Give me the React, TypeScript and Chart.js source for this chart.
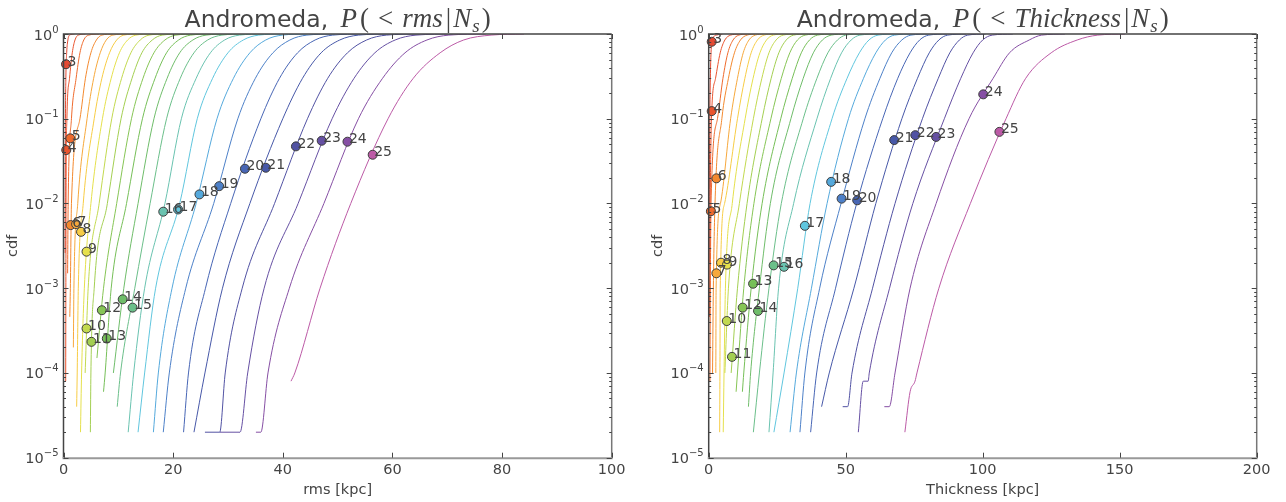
import React, { useEffect, useRef } from "react";
import { Chart, registerables } from "chart.js";

Chart.register(...registerables);

// ---------------- data ----------------
const sampleSizes = [3, 4, 5, 6, 7, 8, 9, 10, 11, 12, 13, 14, 15, 16, 17, 18, 19, 20, 21, 22, 23, 24, 25];

const curveColors = [
  "#e34a33", "#e9552f", "#ee6a2d", "#f3892f", "#f6a83c", "#f7cc45", "#e5e04c", "#c2d94f",
  "#a3cf52", "#86c555", "#76bf58", "#6fbd6a", "#6bbf8a", "#6ac3b0", "#60c6de", "#55a9dc",
  "#4d80c8", "#4866b5", "#4758a8", "#5152a3", "#6650a3", "#864fa4", "#bc5aa6",
];

// cdf levels at which the x value of every curve is read
const cdfLevels = [1e-4, 1e-3, 1e-2, 0.1, 0.3, 0.6, 0.85, 0.97, 1];

// rms [kpc] read at the cdf levels, one row per sample size
const rmsCurveX: (number | null)[][] = [
  [null, null, 0.32, 0.36, 0.43, 0.58, 0.8, 1.1, 2.0],
  [null, 0.43, 0.46, 0.62, 1.1, 1.6, 2.1, 2.7, 4.0],
  [null, null, 0.85, 1.45, 2.3, 3.0, 3.7, 4.6, 6.5],
  [null, 1.25, 1.45, 3.0, 4.0, 5.0, 6.0, 7.0, 9.0],
  [null, 1.9, 2.6, 4.3, 5.5, 6.7, 7.8, 9.0, 11.5],
  [2.5, 2.7, 3.6, 5.6, 7.0, 8.4, 9.7, 11.0, 13.5],
  [3.3, 3.8, 5.0, 7.1, 8.7, 10.2, 11.7, 13.2, 16.0],
  [3.95, 4.5, 6.5, 8.8, 10.6, 12.3, 14.0, 15.6, 18.5],
  [5.0, 5.6, 8.0, 10.5, 12.5, 14.3, 16.2, 18.0, 21.5],
  [null, 7.3, 9.7, 12.4, 14.5, 16.5, 18.5, 20.5, 24.0],
  [7.6, 8.7, 11.5, 14.4, 16.7, 18.8, 21.0, 23.2, 27.0],
  [9.1, 11.0, 13.6, 16.5, 18.9, 21.2, 23.6, 26.0, 30.0],
  [10.4, 13.0, 15.8, 18.8, 21.3, 23.8, 26.3, 28.9, 33.0],
  [12.8, 14.8, 18.5, 21.5, 24.2, 26.8, 29.4, 32.1, 36.5],
  [14.8, 16.8, 21.2, 24.4, 27.2, 30.0, 32.8, 35.6, 40.0],
  [17.3, 19.8, 24.2, 28.0, 31.0, 34.0, 36.9, 39.9, 44.5],
  [19.3, 22.3, 27.4, 31.8, 35.0, 38.2, 41.3, 44.4, 49.5],
  [22.8, 25.9, 30.5, 36.0, 39.4, 42.7, 45.9, 49.1, 54.5],
  [25.8, 29.0, 34.0, 40.0, 43.6, 47.0, 50.4, 53.8, 59.5],
  [29.5, 32.6, 38.5, 44.5, 48.2, 51.8, 55.3, 58.9, 65.0],
  [33.6, 36.6, 42.8, 49.0, 53.0, 56.8, 60.5, 64.3, 71.0],
  [37.3, 41.2, 47.5, 53.8, 58.2, 62.3, 66.3, 70.3, 77.0],
  [42.2, 46.8, 52.4, 59.2, 63.8, 68.7, 73.0, 78.0, 84.0],
];

// lowest samples of each rms curve: [rms, cdf]
const rmsTails: number[][][] = [
  [[0.3, 2.6e-3]], [[0.4, 8e-5]], [[0.75, 1.5e-3]], [[1.15, 4.6e-4]], [[1.8, 2e-4]],
  [[2.4, 4e-5]], [[3.1, 2e-5]], [], [[4.9, 2e-5]], [[6.1, 1.5e-4]], [[7.3, 6e-5]], [],
  [[9.8, 4e-5]], [[11.8, 2e-5]], [[13.6, 2e-5]], [[16.4, 2e-5]], [[18.2, 2e-5]],
  [[21.9, 2e-5]], [[23.8, 2e-5]], [[25.8, 2e-5], [28.5, 2e-5]], [[28.5, 2e-5], [32.2, 2e-5]],
  [[35.1, 2e-5], [36.0, 2e-5]], [[41.5, 8e-5]],
];

const rmsPointX = [0.46, 0.5, 1.24, 1.3, 2.3, 3.2, 4.2, 4.2, 5.1, 7.0, 7.9, 10.8, 12.6, 18.2, 20.9, 24.8, 28.4, 33.1, 36.9, 42.4, 47.1, 51.8, 56.4];
const rmsPointCdf = [0.44, 0.0427, 0.0587, 0.00556, 0.0057, 0.00463, 0.0027, 3.35e-4, 2.33e-4, 5.5e-4, 2.55e-4, 7.4e-4, 5.9e-4, 0.008, 0.0085, 0.0128, 0.016, 0.0257, 0.0264, 0.0472, 0.055, 0.0536, 0.0376];

// Thickness [kpc] read at the cdf levels
const thickCurveX: (number | null)[][] = [
  [null, null, 0.2, 0.4, 0.6, 0.85, 1.3, 2.8, 5.0],
  [null, 0.35, 0.55, 1.0, 2.5, 4.2, 5.9, 8.0, 11.0],
  [null, 0.6, 0.85, 3.2, 5.2, 7.0, 8.9, 11.0, 14.0],
  [1.4, 1.7, 2.3, 4.8, 7.2, 9.4, 11.6, 14.0, 17.0],
  [2.6, 2.7, 4.3, 8.0, 10.5, 12.6, 14.7, 17.0, 20.0],
  [4.1, 4.2, 5.8, 10.5, 13.2, 15.5, 17.8, 20.2, 23.5],
  [5.6, 6.1, 8.6, 13.3, 16.2, 18.7, 21.1, 23.6, 27.5],
  [5.9, 7.2, 11.2, 16.3, 19.4, 22.0, 24.6, 27.2, 31.5],
  [8.2, 10.5, 14.0, 19.5, 22.8, 25.6, 28.3, 31.0, 35.5],
  [10.5, 12.8, 16.5, 22.7, 26.5, 29.6, 32.4, 35.2, 40.0],
  [12.8, 15.5, 19.5, 26.3, 30.5, 33.8, 36.8, 39.7, 45.0],
  [15.3, 18.5, 22.5, 30.0, 34.5, 38.2, 41.5, 44.7, 50.0],
  [18.5, 22.0, 26.5, 34.5, 39.5, 43.5, 47.0, 50.0, 56.0],
  [23.5, 25.5, 31.0, 39.5, 44.5, 48.5, 52.0, 55.2, 62.0],
  [27.5, 32.5, 37.0, 45.0, 50.5, 55.0, 58.5, 61.8, 68.5],
  [32.0, 37.5, 43.2, 51.0, 56.5, 61.0, 64.5, 67.8, 74.5],
  [35.1, 40.5, 48.3, 57.0, 62.5, 66.8, 70.5, 73.8, 80.5],
  [39.4, 46.3, 54.0, 63.5, 69.0, 73.5, 77.0, 80.3, 87.0],
  [44.0, 53.0, 61.0, 70.5, 76.2, 80.5, 84.0, 87.2, 94.0],
  [52.3, 59.8, 68.0, 78.0, 83.8, 88.0, 91.5, 94.5, 101.0],
  [58.6, 66.0, 74.5, 86.0, 92.0, 96.5, 100.0, 103.5, 111.0],
  [68.0, 73.5, 83.0, 95.0, 103.8, 109.8, 117.0, 121.5, 130.0],
  [76.0, 84.0, 95.5, 108.5, 115.7, 125.0, 134.5, 142.0, 152.0],
];

// lowest samples of each Thickness curve: [thickness, cdf]
const thickTails: number[][][] = [
  [[0.12, 2e-3]], [[0.3, 4.6e-4]], [[0.45, 8e-5]], [], [], [[4.0, 2e-5]], [[5.3, 2e-5]], [], [],
  [[10.0, 6e-5]], [[12.3, 6e-5]], [[14.5, 4e-5]], [[16.3, 2e-5]], [[22.0, 2e-5]], [[23.8, 2e-5]],
  [[29.7, 2e-5]], [[33.3, 2e-5]], [[37.2, 2e-5]], [[41.2, 4e-5]], [[48.9, 4e-5], [50.7, 4e-5]],
  [[54.6, 2e-5], [56.4, 8e-5], [58.2, 8e-5]], [[64.1, 4e-5], [65.9, 4e-5]],
  [[71.6, 2e-5], [73.5, 6e-5], [75.3, 8e-5]],
];

const thickPointX = [1.1, 1.1, 0.8, 2.8, 2.8, 4.5, 6.7, 6.6, 8.5, 12.4, 16.2, 18.0, 23.7, 27.5, 35.1, 44.7, 48.5, 54.2, 67.7, 75.4, 83.0, 100.2, 106.1];
const thickPointCdf = [0.81, 0.123, 0.0081, 0.0198, 0.0015, 0.002, 0.0019, 4.1e-4, 1.55e-4, 5.9e-4, 0.00113, 5.4e-4, 0.00186, 0.00179, 0.00545, 0.018, 0.0114, 0.0109, 0.056, 0.064, 0.061, 0.194, 0.07];

const rmsXTicks = [0, 20, 40, 60, 80, 100];
const thickXTicks = [0, 50, 100, 150, 200];
const cdfTickExponents = [0, -1, -2, -3, -4, -5];

// ---------------- drawing ----------------
const TEXT = "#444444";
const SANS = "'DejaVu Sans', sans-serif";
const SERIF = "'Liberation Serif', 'DejaVu Serif', serif";

type Panel = {
  curves: (number | null)[][];
  tails: number[][][];
  pointX: number[];
  pointCdf: number[];
  xMax: number;
  xTicks: number[];
  xLabel: string;
  titleVar: string;
  pad: { left: number; right: number; top: number; bottom: number };
};

function drawTitle(ctx: CanvasRenderingContext2D, cx: number, baseline: number, varName: string) {
  const pieces: { t: string; font: string; gap: number; dy?: number }[] = [
    { t: "Andromeda, ", font: `23.5px ${SANS}`, gap: 5 },
    { t: "P", font: `italic 27px ${SERIF}`, gap: 3 },
    { t: "(", font: `27px ${SERIF}`, gap: 9 },
    { t: "<", font: `27px ${SERIF}`, gap: 9 },
    { t: varName, font: `italic 27px ${SERIF}`, gap: 3 },
    { t: "|", font: `27px ${SERIF}`, gap: 2 },
    { t: "N", font: `italic 27px ${SERIF}`, gap: 1 },
    { t: "s", font: `italic 19px ${SERIF}`, gap: 2, dy: 5 },
    { t: ")", font: `27px ${SERIF}`, gap: 0 },
  ];
  let total = 0;
  const widths = pieces.map((p) => {
    ctx.font = p.font;
    const w = ctx.measureText(p.t).width;
    total += w + p.gap;
    return w;
  });
  let x = cx - total / 2;
  ctx.fillStyle = TEXT;
  ctx.textBaseline = "alphabetic";
  ctx.textAlign = "left";
  pieces.forEach((p, i) => {
    ctx.font = p.font;
    ctx.fillText(p.t, x, baseline + (p.dy || 0));
    x += widths[i] + p.gap;
  });
}

function makeAxesPlugin(panel: Panel, pointSetIndex: number) {
  return {
    id: "mplAxes",
    afterDraw(chart: any) {
      const ctx: CanvasRenderingContext2D = chart.ctx;
      const { left, right, top, bottom } = chart.chartArea;
      const xs = chart.scales.x;
      const ys = chart.scales.y;
      ctx.save();

      // point labels
      const meta = chart.getDatasetMeta(pointSetIndex);
      ctx.font = `14px ${SANS}`;
      ctx.fillStyle = TEXT;
      ctx.textAlign = "left";
      ctx.textBaseline = "alphabetic";
      meta.data.forEach((el: any, i: number) => {
        ctx.fillText(String(sampleSizes[i]), el.x + 1.5, el.y + 1.5);
      });

      // frame
      ctx.lineCap = "butt";
      ctx.strokeStyle = "#444444";
      ctx.lineWidth = 1.5;
      ctx.beginPath();
      ctx.moveTo(left, bottom);
      ctx.lineTo(left, top);
      ctx.lineTo(right, top);
      ctx.stroke();
      ctx.strokeStyle = "#777777";
      ctx.beginPath();
      ctx.moveTo(right, top);
      ctx.lineTo(right, bottom);
      ctx.stroke();
      ctx.strokeStyle = "#999999";
      ctx.lineWidth = 2;
      ctx.beginPath();
      ctx.moveTo(left - 1, bottom + 0.5);
      ctx.lineTo(right + 1, bottom + 0.5);
      ctx.stroke();

      // x ticks
      ctx.strokeStyle = "#444444";
      ctx.lineWidth = 1;
      ctx.font = `14.5px ${SANS}`;
      ctx.textAlign = "center";
      ctx.textBaseline = "middle";
      panel.xTicks.forEach((t) => {
        const px = Math.round(xs.getPixelForValue(t)) + 0.5;
        ctx.beginPath();
        ctx.moveTo(px, bottom);
        ctx.lineTo(px, bottom - 5);
        ctx.moveTo(px, top);
        ctx.lineTo(px, top + 5);
        ctx.stroke();
        ctx.fillText(String(t), xs.getPixelForValue(t), bottom + 13);
      });
      ctx.fillText(panel.xLabel, (left + right) / 2, bottom + 33);

      // y ticks (major + minor, both sides)
      cdfTickExponents.forEach((e) => {
        const py = Math.round(ys.getPixelForValue(Math.pow(10, e))) + 0.5;
        ctx.beginPath();
        ctx.moveTo(left, py);
        ctx.lineTo(left + 5, py);
        ctx.moveTo(right, py);
        ctx.lineTo(right - 5, py);
        ctx.stroke();
        if (e < 0) {
          for (let m = 2; m <= 9; m++) {
            const my = Math.round(ys.getPixelForValue(m * Math.pow(10, e))) + 0.5;
            ctx.beginPath();
            ctx.moveTo(left, my);
            ctx.lineTo(left + 2.5, my);
            ctx.moveTo(right, my);
            ctx.lineTo(right - 2.5, my);
            ctx.stroke();
          }
        }
        // label 10^e
        const exp = e === 0 ? "0" : "\u2212" + String(-e);
        ctx.textAlign = "left";
        ctx.textBaseline = "alphabetic";
        ctx.font = `10px ${SANS}`;
        const ew = ctx.measureText(exp).width;
        ctx.font = `14.5px ${SANS}`;
        const bw = ctx.measureText("10").width;
        const xr = left - 5;
        const y0 = ys.getPixelForValue(Math.pow(10, e));
        ctx.fillText("10", xr - ew - bw, y0 + 5.5);
        ctx.font = `10px ${SANS}`;
        ctx.fillText(exp, xr - ew, y0 - 1.5);
      });

      // y label
      ctx.save();
      ctx.translate(left - 50, (top + bottom) / 2);
      ctx.rotate(-Math.PI / 2);
      ctx.font = `14.5px ${SANS}`;
      ctx.textAlign = "center";
      ctx.textBaseline = "middle";
      ctx.fillText("cdf", 0, 0);
      ctx.restore();

      // title
      drawTitle(ctx, (left + right) / 2, 27, panel.titleVar);
      ctx.restore();
    },
  };
}

function buildConfig(panel: Panel): any {
  const lineSets = sampleSizes.map((n, i) => {
    const pts: { x: number; y: number }[] = panel.tails[i].map(([x, c]) => ({ x, y: c }));
    panel.curves[i].forEach((x, j) => {
      if (x !== null) pts.push({ x, y: cdfLevels[j] });
    });
    return {
      type: "line",
      label: "N=" + n,
      data: pts,
      borderColor: curveColors[i],
      backgroundColor: curveColors[i],
      borderWidth: 1,
      pointRadius: 0,
      cubicInterpolationMode: "monotone",
      fill: false,
      order: 2,
    };
  });
  const pointSet = {
    type: "scatter",
    label: "points",
    data: panel.pointX.map((x, i) => ({ x, y: panel.pointCdf[i] })),
    pointBackgroundColor: curveColors,
    pointBorderColor: "#3c3c3c",
    pointBorderWidth: 1,
    pointRadius: 4.5,
    showLine: false,
    clip: false,
    order: 1,
  };
  const datasets = [...lineSets, pointSet];
  return {
    type: "line",
    data: { datasets },
    options: {
      animation: false,
      responsive: false,
      devicePixelRatio: 1,
      parsing: false,
      normalized: true,
      layout: { padding: panel.pad },
      plugins: { legend: { display: false }, tooltip: { enabled: false }, title: { display: false } },
      events: [],
      scales: {
        x: { type: "linear", min: 0, max: panel.xMax, display: false },
        y: { type: "logarithmic", min: 1e-5, max: 1, display: false },
      },
    },
    plugins: [makeAxesPlugin(panel, datasets.length - 1)],
  };
}

function PanelChart({ panel, left }: { panel: Panel; left: number }) {
  const ref = useRef<HTMLCanvasElement | null>(null);
  useEffect(() => {
    if (!ref.current) return;
    const chart = new Chart(ref.current, buildConfig(panel));
    return () => chart.destroy();
  }, [panel]);
  return (
    <canvas
      ref={ref}
      width={643}
      height={502}
      style={{ position: "absolute", left, top: 0, width: 643, height: 502 }}
    />
  );
}

const rmsPanel: Panel = {
  curves: rmsCurveX,
  tails: rmsTails,
  pointX: rmsPointX,
  pointCdf: rmsPointCdf,
  xMax: 100,
  xTicks: rmsXTicks,
  xLabel: "rms [kpc]",
  titleVar: "rms",
  pad: { left: 63.5, right: 31.3, top: 34, bottom: 44.3 },
};

const thickPanel: Panel = {
  curves: thickCurveX,
  tails: thickTails,
  pointX: thickPointX,
  pointCdf: thickPointCdf,
  xMax: 200,
  xTicks: thickXTicks,
  xLabel: "Thickness [kpc]",
  titleVar: "Thickness",
  pad: { left: 65.7, right: 29.3, top: 34, bottom: 44.3 },
};

export default function App() {
  return (
    <div style={{ position: "fixed", left: 0, top: 0, width: 1286, height: 502, background: "#ffffff" }}>
      <PanelChart panel={rmsPanel} left={0} />
      <PanelChart panel={thickPanel} left={643} />
    </div>
  );
}
